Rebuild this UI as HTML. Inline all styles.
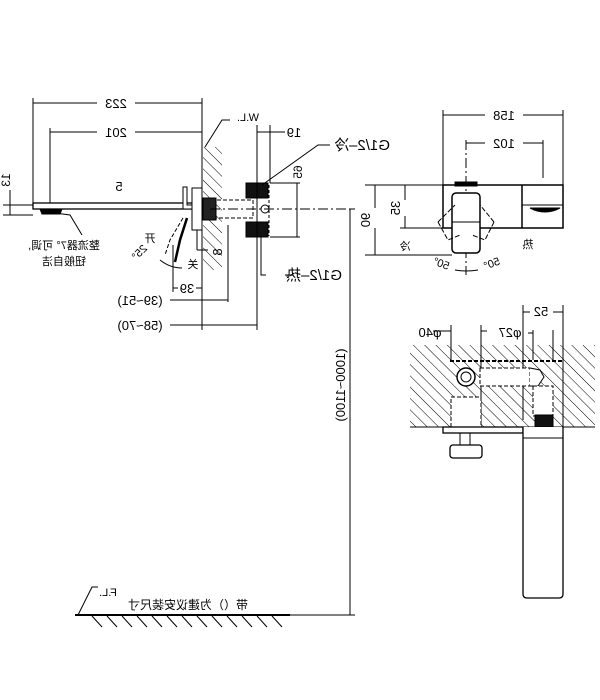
<!DOCTYPE html>
<html><head><meta charset="utf-8"><style>
html,body{margin:0;padding:0;background:#fff;}
svg{display:block;font-family:"Liberation Sans","Noto Sans CJK SC",sans-serif;}
</style></head><body>
<svg width="600" height="700" viewBox="0 0 600 700" xmlns="http://www.w3.org/2000/svg">
<defs>
<pattern id="h" width="8" height="8" patternUnits="userSpaceOnUse" patternTransform="rotate(-45)">
<rect width="8" height="8" fill="#fff"/><line x1="0" y1="0" x2="0" y2="8" stroke="#000" stroke-width="1"/>
</pattern>
</defs>
<g stroke="#000" stroke-width="1" fill="none">
<line x1="33" y1="98" x2="33" y2="205"/>
<line x1="202" y1="98" x2="202" y2="330"/>
<line x1="33" y1="103" x2="97" y2="103"/><line x1="135" y1="103" x2="202" y2="103"/>
<line x1="50" y1="128" x2="50" y2="205"/>
<line x1="50" y1="132" x2="97" y2="132"/><line x1="135" y1="132" x2="202" y2="132"/>
<rect x="203" y="147" width="19" height="123" fill="url(#h)" stroke="none"/>
<line x1="202" y1="147" x2="202" y2="270"/>
<polyline points="205,147 222,120 230,120"/>
<rect x="33" y="203" width="160" height="6" fill="#fff" stroke-width="1.3"/>
<path d="M40 209 L62 209 L60 214 L42 214 Z" fill="#000"/>
<path d="M55 213 L70 215 L82 235"/>
<line x1="10" y1="190" x2="10" y2="215"/><line x1="3" y1="205" x2="33" y2="205"/><line x1="3" y1="215" x2="33" y2="215"/>
<rect x="192" y="188" width="10" height="42" fill="#fff"/>
<path d="M183 187 L187 187 L187 205 L192 205 L192 209 L183 209 Z" fill="#fff"/>
<path d="M187 218 L180 240 L175 262" stroke-width="2.5"/>
<path d="M183 218 L170 240 L165 255" stroke-dasharray="4,2"/>
<path d="M160 260 Q170 268 182 268"/>
<line x1="197" y1="230" x2="197" y2="250"/>
<line x1="197" y1="250" x2="208" y2="250"/>
<rect x="205" y="200" width="48" height="18" stroke-dasharray="4,2"/>
<rect x="203" y="198" width="13" height="22" fill="#222"/>
<rect x="246" y="183" width="22" height="15" fill="#111"/>
<rect x="246" y="222" width="22" height="15" fill="#111"/>
<line x1="269" y1="185" x2="269" y2="236" stroke-dasharray="3,2"/>
<circle cx="265" cy="209" r="4" fill="#fff"/>
<line x1="210" y1="209" x2="350" y2="209" stroke-dasharray="10,3,2,3"/>
<line x1="350" y1="209" x2="350" y2="615"/>
<line x1="350" y1="209" x2="355" y2="209"/>
<line x1="257" y1="125" x2="257" y2="330"/><line x1="270" y1="125" x2="270" y2="183"/>
<line x1="257" y1="132" x2="285" y2="132"/>
<line x1="270" y1="183" x2="300" y2="183"/><line x1="270" y1="237" x2="300" y2="237"/>
<line x1="297" y1="183" x2="297" y2="237"/>
<polyline points="262,185 318,145 330,145"/>
<polyline points="261,237 261,275 266,275"/>
<line x1="285" y1="275" x2="293" y2="275"/>
<line x1="173" y1="245" x2="173" y2="292"/>
<line x1="173" y1="288" x2="178" y2="288"/><line x1="196" y1="288" x2="202" y2="288"/>
<line x1="228" y1="225" x2="228" y2="302"/>
<line x1="170" y1="300" x2="228" y2="300"/>
<line x1="170" y1="325" x2="257" y2="325"/>
<line x1="443" y1="110" x2="443" y2="185"/><line x1="563" y1="110" x2="563" y2="185"/>
<line x1="443" y1="115" x2="485" y2="115"/><line x1="523" y1="115" x2="563" y2="115"/>
<line x1="466" y1="140" x2="466" y2="275" stroke-dasharray="10,3,2,3"/>
<line x1="543" y1="140" x2="543" y2="178"/>
<line x1="466" y1="143" x2="485" y2="143"/><line x1="523" y1="143" x2="543" y2="143"/>
<rect x="443" y="185" width="120" height="43" stroke-width="1.5"/>
<rect x="455" y="182" width="22" height="4" fill="#000"/>
<line x1="522" y1="185" x2="522" y2="228" stroke-width="1.5"/>
<line x1="522" y1="205" x2="563" y2="205"/>
<path d="M530 208 Q545 216 560 208 Z" fill="#000"/>
<rect x="452" y="193" width="28" height="60" rx="4" fill="#fff" stroke-width="1.5"/>
<path d="M438 222 L455 205 M438 222 L448 240 L460 235" stroke-dasharray="5,2"/>
<path d="M494 222 L480 205 M494 222 L485 240 L472 235" stroke-dasharray="5,2"/>
<line x1="452" y1="222" x2="480" y2="222"/>
<line x1="365" y1="185" x2="443" y2="185"/><line x1="365" y1="255" x2="452" y2="255"/>
<line x1="375" y1="185" x2="375" y2="208"/><line x1="375" y1="228" x2="375" y2="255"/>
<line x1="400" y1="228" x2="443" y2="228"/>
<line x1="405" y1="185" x2="405" y2="200"/><line x1="405" y1="216" x2="405" y2="228"/>
<path d="M455 270 Q466 272 478 270"/>
<rect x="410" y="345" width="185" height="82" fill="url(#h)" stroke="none"/>
<line x1="410" y1="427" x2="595" y2="427"/>
<line x1="523" y1="305" x2="523" y2="420"/><line x1="563" y1="305" x2="563" y2="427"/>
<line x1="523" y1="312" x2="530" y2="312"/><line x1="553" y1="312" x2="563" y2="312"/>
<line x1="451" y1="325" x2="451" y2="360"/><line x1="481" y1="325" x2="481" y2="427"/>
<line x1="451" y1="331" x2="433" y2="331"/><line x1="481" y1="331" x2="487" y2="331"/>
<line x1="533" y1="330" x2="533" y2="360"/><line x1="553" y1="330" x2="553" y2="360"/>
<line x1="533" y1="333" x2="528" y2="333"/>
<line x1="450" y1="361" x2="563" y2="361" stroke-width="2" stroke-dasharray="4,2"/>
<rect x="451" y="397" width="30" height="30" fill="#fff" stroke-dasharray="4,2"/>
<circle cx="466" cy="377" r="9" fill="#fff" stroke-width="1.5"/>
<circle cx="466" cy="377" r="5"/>
<rect x="480" y="368" width="50" height="18" fill="#fff" stroke-dasharray="4,2"/>
<path d="M530 368 L540 370 L544 377 L538 386 L530 386" fill="#fff"/>
<rect x="533" y="386" width="20" height="30" fill="#fff" stroke-dasharray="4,2"/>
<rect x="535" y="415" width="18" height="12" fill="#111"/>
<rect x="443" y="427" width="80" height="6" fill="#fff" stroke-width="1.3"/>
<rect x="460" y="433" width="10" height="12"/>
<rect x="450" y="445" width="32" height="13" rx="3" fill="#fff" stroke-width="1.3"/>
<path d="M523 427 L523 594 Q523 598 527 598 L559 598 Q563 598 563 594 L563 427" fill="#fff" stroke-width="1.3"/>
<line x1="523" y1="438" x2="563" y2="438"/>
<line x1="75" y1="615" x2="290" y2="615" stroke-width="2"/>
<line x1="290" y1="615" x2="355" y2="615"/>
<polyline points="78,615 92,587 98,587"/>
<g>
<line x1="92" y1="616" x2="102" y2="627"/><line x1="107" y1="616" x2="117" y2="627"/><line x1="122" y1="616" x2="132" y2="627"/><line x1="137" y1="616" x2="147" y2="627"/><line x1="152" y1="616" x2="162" y2="627"/><line x1="167" y1="616" x2="177" y2="627"/><line x1="182" y1="616" x2="192" y2="627"/><line x1="197" y1="616" x2="207" y2="627"/><line x1="212" y1="616" x2="222" y2="627"/><line x1="227" y1="616" x2="237" y2="627"/><line x1="242" y1="616" x2="252" y2="627"/><line x1="257" y1="616" x2="267" y2="627"/><line x1="272" y1="616" x2="282" y2="627"/>
</g>
</g>
<g font-size="13" fill="#000" text-anchor="middle">
<text transform="translate(116,108) scale(-1,1)">223</text>
<text transform="translate(116,137) scale(-1,1)">201</text>
<text transform="translate(248,121) scale(-1,1)" font-size="11">W.L.</text>
<text transform="translate(294,137) scale(-1,1)">19</text>
<text transform="translate(362,150) scale(-1,1)" font-size="15">G1/2–冷</text>
<text transform="translate(314,280) scale(-1,1)" font-size="15">G1/2–热</text>
<text transform="translate(119,191) scale(-1,1)">5</text>
<text transform="translate(187,293) scale(-1,1)">39</text>
<text transform="translate(140,305) scale(-1,1)">(39~51)</text>
<text transform="translate(140,330) scale(-1,1)">(58~70)</text>
<text transform="translate(504,120) scale(-1,1)">158</text>
<text transform="translate(504,148) scale(-1,1)">102</text>
<text transform="translate(541,316) scale(-1,1)">52</text>
<text transform="translate(510,337) scale(-1,1)">φ27</text>
<text transform="translate(430,337) scale(-1,1)">φ40</text>
<text transform="translate(64,249) scale(-1,1)" font-size="11">整流器7° 可调,</text>
<text transform="translate(64,265) scale(-1,1)" font-size="11">钮般自洁</text>
<text transform="translate(150,242) scale(-1,1)" font-size="11">开</text>
<text transform="translate(193,268) scale(-1,1)" font-size="11">关</text>
<text transform="translate(142,255) rotate(-45) scale(-1,1)" font-size="11">25°</text>
<text transform="translate(222,252) rotate(-90) scale(-1,1)">8</text>
<text transform="translate(302,172) rotate(-90) scale(-1,1)" font-size="12">65</text>
<text transform="translate(10,180) rotate(-90) scale(-1,1)" font-size="12">13</text>
<text transform="translate(370,220) rotate(-90) scale(-1,1)">90</text>
<text transform="translate(400,208) rotate(-90) scale(-1,1)">35</text>
<text transform="translate(405,250) scale(-1,1)" font-size="11">冷</text>
<text transform="translate(528,248) scale(-1,1)" font-size="11">热</text>
<text transform="translate(440,267) rotate(20) scale(-1,1)" font-size="11">50°</text>
<text transform="translate(493,267) rotate(-20) scale(-1,1)" font-size="11">50°</text>
<text transform="translate(345,385) rotate(-90) scale(-1,1)">(1000~1100)</text>
<text transform="translate(108,596) scale(-1,1)" font-size="11">F.L.</text>
<text transform="translate(188,609) scale(-1,1)" font-size="12">带（）为建议安装尺寸</text>
</g>
</svg>
</body></html>
